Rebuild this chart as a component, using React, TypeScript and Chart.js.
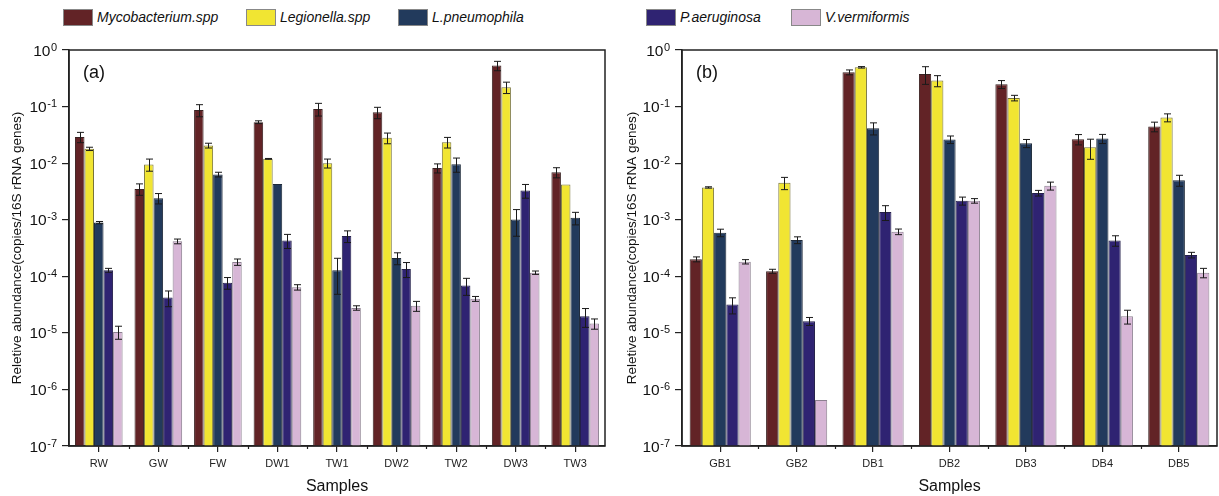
import { useEffect, useRef } from 'react';
import { Chart, registerables } from 'chart.js';
Chart.register(...registerables);

const FONT = "'Liberation Sans', Arial, Helvetica, sans-serif";

const seriesNames = ['Mycobacterium.spp', 'Legionella.spp', 'L.pneumophila', 'P.aeruginosa', 'V.vermiformis'];
const seriesColors = ['#622326', '#f1e532', '#223a5c', '#2f2372', '#d7b6d6'];
const seriesBorders = ['#3a2222', '#77733a', '#1e2a3a', '#24204a', '#8c8090'];

const yTickValues = [1e-7, 1e-6, 1e-5, 1e-4, 1e-3, 1e-2, 1e-1, 1];
const yTickBase = '10';
const yTickExps = ['-7', '-6', '-5', '-4', '-3', '-2', '-1', '0'];

// Panel (a)
const categoriesA = ['RW', 'GW', 'FW', 'DW1', 'TW1', 'DW2', 'TW2', 'DW3', 'TW3'];
const mycoA = [0.029, 0.0035, 0.087, 0.053, 0.091, 0.079, 0.0082, 0.53, 0.0069];
const legioA = [0.0179, 0.0095, 0.0205, 0.0119, 0.010, 0.028, 0.0235, 0.22, 0.0042];
const lpneuA = [8.9e-4, 2.4e-3, 6.3e-3, 4.3e-3, 1.28e-4, 2.1e-4, 9.6e-3, 1.01e-3, 1.08e-3];
const paerA = [1.28e-4, 4.2e-5, 7.7e-5, 4.3e-4, 5.15e-4, 1.35e-4, 6.9e-5, 3.3e-3, 1.97e-5];
const vvermA = [1.04e-5, 4.15e-4, 1.79e-4, 6.4e-5, 2.76e-5, 3.0e-5, 4.0e-5, 1.16e-4, 1.46e-5];
const mycoErrA = [0.006, 0.0008, 0.021, 0.003, 0.023, 0.018, 0.0015, 0.1, 0.0014];
const legioErrA = [0.0012, 0.0023, 0.002, 0.0002, 0.0018, 0.006, 0.005, 0.05, 0];
const lpneuErrA = [0.4e-4, 0.5e-3, 0.6e-3, 0, 0.8e-4, 0.5e-4, 2.7e-3, 0.5e-3, 0.27e-3];
const paerErrA = [1e-5, 1.3e-5, 1.8e-5, 1.2e-4, 1.2e-4, 0.4e-4, 2.3e-5, 0.9e-3, 0.72e-5];
const vvermErrA = [2.7e-6, 0.4e-4, 2.3e-5, 0.7e-5, 0.25e-5, 0.6e-5, 0.4e-5, 0.08e-4, 0.3e-5];

// Panel (b)
const categoriesB = ['GB1', 'GB2', 'DB1', 'DB2', 'DB3', 'DB4', 'DB5'];
const mycoB = [2.0e-4, 1.23e-4, 0.404, 0.377, 0.248, 0.0265, 0.0444];
const legioB = [3.72e-3, 4.5e-3, 0.494, 0.288, 0.142, 0.0191, 0.064];
const lpneuB = [5.9e-4, 4.38e-4, 0.0415, 0.0262, 0.0225, 0.0272, 5.0e-3];
const paerB = [3.16e-5, 1.61e-5, 1.37e-3, 2.16e-3, 2.96e-3, 4.3e-4, 2.38e-4];
const vvermB = [1.81e-4, 6.5e-7, 6.14e-4, 2.16e-3, 3.98e-3, 1.97e-5, 1.16e-4];
const mycoErrB = [0.2e-4, 0.1e-4, 0.04, 0.13, 0.04, 0.0055, 0.0086];
const legioErrB = [0.1e-3, 1.1e-3, 0.015, 0.064, 0.016, 0.0074, 0.0103];
const lpneuErrB = [0.9e-4, 0.6e-4, 0.01, 0.004, 0.0037, 0.005, 1.1e-3];
const paerErrB = [1.0e-5, 0.26e-5, 0.4e-3, 0.35e-3, 0.34e-3, 0.9e-4, 0.27e-4];
const vvermErrB = [0.16e-4, 0, 0.7e-4, 0.2e-3, 0.64e-3, 0.54e-5, 0.22e-4];

const yTitle = 'Reletive abundance(copies/16S rRNA genes)';
const xTitle = 'Samples';

const extrasPlugin = {
  id: 'extras',
  afterDatasetsDraw(chart: any, _args: any, opts: any) {
    const { ctx, chartArea, scales } = chart;
    const y = scales.y;
    const x = scales.x;
    ctx.save();
    // error bars
    chart.data.datasets.forEach((ds: any, di: number) => {
      const meta = chart.getDatasetMeta(di);
      meta.data.forEach((bar: any, i: number) => {
        const e = ds.errors ? ds.errors[i] : 0;
        if (!e) return;
        const v = ds.data[i];
        const yt = y.getPixelForValue(v + e);
        const yb = y.getPixelForValue(Math.max(v - e, y.min));
        const cx = Math.round(bar.x) + 0.5;
        const cap = 3.5;
        ctx.strokeStyle = '#1a1a1a';
        ctx.lineWidth = 1;
        ctx.beginPath();
        ctx.moveTo(cx, yt);
        ctx.lineTo(cx, yb);
        ctx.moveTo(cx - cap, yt);
        ctx.lineTo(cx + cap, yt);
        ctx.moveTo(cx - cap, yb);
        ctx.lineTo(cx + cap, yb);
        ctx.stroke();
      });
    });
    // minor x ticks at category boundaries
    const n = chart.data.labels.length;
    ctx.strokeStyle = '#222';
    ctx.lineWidth = 1.2;
    ctx.beginPath();
    for (let k = 1; k < n; k++) {
      const px = Math.round((x.getPixelForValue(k) + x.getPixelForValue(k - 1)) / 2) + 0.5;
      ctx.moveTo(px, chartArea.bottom);
      ctx.lineTo(px, chartArea.bottom + 3);
    }
    ctx.stroke();
    // frame
    ctx.strokeStyle = '#222';
    ctx.lineWidth = 1.5;
    ctx.strokeRect(chartArea.left, chartArea.top, chartArea.right - chartArea.left, chartArea.bottom - chartArea.top);
    // y tick labels: 10 with superscript exponent
    ctx.fillStyle = '#111';
    ctx.textBaseline = 'alphabetic';
    ctx.textAlign = 'right';
    yTickValues.forEach((v, i) => {
      const py = y.getPixelForValue(v);
      const expRight = chartArea.left - 12;
      ctx.font = `11px ${FONT}`;
      const ew = ctx.measureText(yTickExps[i]).width;
      ctx.fillText(yTickExps[i], expRight, py + 0.5);
      ctx.font = `15.5px ${FONT}`;
      ctx.fillText(yTickBase, expRight - ew - 0.5, py + 5.5);
    });
    // panel label
    ctx.fillStyle = '#111';
    ctx.font = `18px ${FONT}`;
    ctx.textBaseline = 'middle';
    ctx.textAlign = 'left';
    ctx.fillText(opts.label, chartArea.left + 14, chartArea.top + 23);
    ctx.restore();
  },
};

function makeChart(
  canvas: HTMLCanvasElement,
  labels: string[],
  values: number[][],
  errors: number[][],
  panelLabel: string,
  yWidth: number,
  rightPad: number,
  titlePad: number
) {
  return new Chart(canvas, {
    type: 'bar',
    data: {
      labels,
      datasets: values.map((vals, i) => ({
        label: seriesNames[i],
        data: vals,
        errors: errors[i],
        backgroundColor: seriesColors[i],
        borderColor: seriesBorders[i],
        borderWidth: 1,
        barPercentage: 1,
        categoryPercentage: 0.8,
      })) as any,
    },
    options: {
      animation: false,
      responsive: false,
      maintainAspectRatio: false,
      layout: { padding: { top: 50, right: rightPad, left: 0, bottom: 0 } },
      plugins: {
        legend: { display: false },
        tooltip: { enabled: false },
        extras: { label: panelLabel },
      } as any,
      scales: {
        x: {
          type: 'category',
          offset: true,
          grid: { offset: false, drawOnChartArea: false, drawTicks: true, tickLength: 6, color: '#222', lineWidth: 1.2 },
          border: { display: true, color: '#222', width: 1.5 },
          ticks: { color: '#222', font: { family: FONT, size: 11 }, padding: 5, maxRotation: 0 },
          title: { display: true, text: xTitle, color: '#111', font: { family: FONT, size: 16 }, padding: { top: 4, bottom: 0 } },
          afterFit: (s: any) => { s.height = 50; },
        },
        y: {
          type: 'logarithmic',
          min: 1e-7,
          max: 1,
          afterBuildTicks: (s: any) => { s.ticks = yTickValues.map((v) => ({ value: v })); },
          grid: { drawOnChartArea: false, drawTicks: true, tickLength: 7, color: '#222', lineWidth: 1.2 },
          border: { display: true, color: '#222', width: 1.5 },
          ticks: { display: false },
          title: { display: true, text: yTitle, color: '#111', font: { family: FONT, size: 13.5 }, padding: { top: titlePad, bottom: 0 } },
          afterFit: (s: any) => { s.width = yWidth; },
        },
      },
    },
    plugins: [extrasPlugin],
  } as any);
}

const legendX = [63, 246, 398, 646, 791];

export default function App() {
  const refA = useRef<HTMLCanvasElement | null>(null);
  const refB = useRef<HTMLCanvasElement | null>(null);

  useEffect(() => {
    const a = makeChart(
      refA.current!,
      categoriesA,
      [mycoA, legioA, lpneuA, paerA, vvermA],
      [mycoErrA, legioErrA, lpneuErrA, paerErrA, vvermErrA],
      '(a)',
      69,
      5,
      9
    );
    const b = makeChart(
      refB.current!,
      categoriesB,
      [mycoB, legioB, lpneuB, paerB, vvermB],
      [mycoErrB, legioErrB, lpneuErrB, paerErrB, vvermErrB],
      '(b)',
      72,
      2,
      14
    );
    return () => {
      a.destroy();
      b.destroy();
    };
  }, []);

  return (
    <div style={{ position: 'absolute', left: 0, top: 0, width: 1219, height: 496, background: '#fff', overflow: 'hidden', fontFamily: FONT }}>
      {seriesNames.map((name, i) => (
        <div key={name} style={{ position: 'absolute', left: legendX[i], top: 8, height: 18, display: 'flex', alignItems: 'center' }}>
          <div style={{ width: 30, height: 17, background: seriesColors[i], border: '1px solid #888', boxSizing: 'border-box' }} />
          <span style={{ marginLeft: 4, fontStyle: 'italic', fontSize: 14, color: '#111', whiteSpace: 'nowrap' }}>{name}</span>
        </div>
      ))}
      <canvas ref={refA} width={610} height={496} style={{ position: 'absolute', left: 0, top: 0, display: 'block' }} />
      <canvas ref={refB} width={609} height={496} style={{ position: 'absolute', left: 610, top: 0, display: 'block' }} />
    </div>
  );
}
